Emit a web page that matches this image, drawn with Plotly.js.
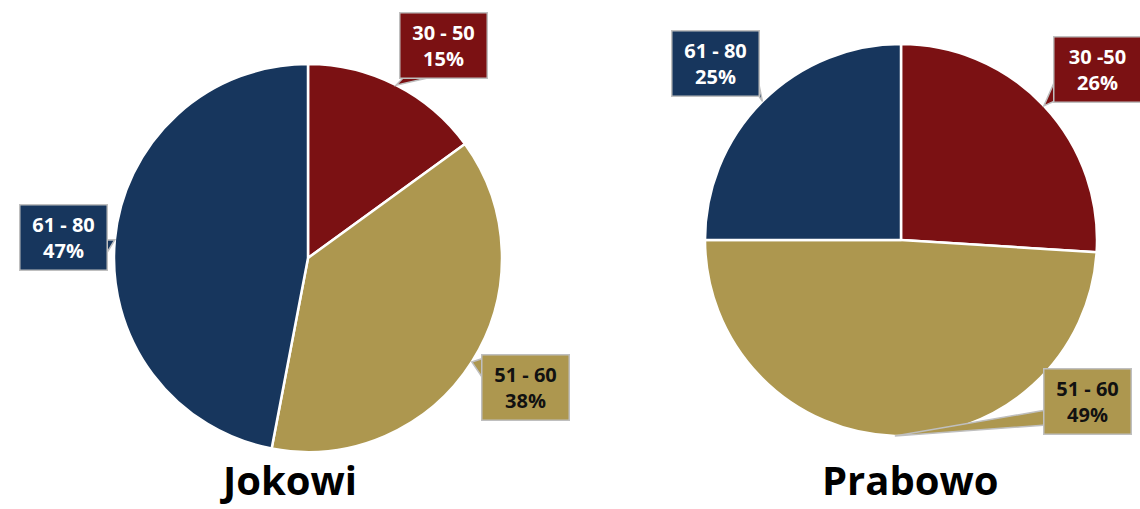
<!DOCTYPE html>
<html>
<head>
<meta charset="utf-8">
<script src="https://cdn.plot.ly/plotly-3.0.1.min.js"></script>
<style>html,body{margin:0;padding:0;background:#fff;}#chart{width:1140px;height:509px;}</style>
</head>
<body>
<div id="chart"></div>
<script>
// ---- data ----
const categories = ['30 - 50', '51 - 60', '61 - 80'];
const jokowiValues = [15, 38, 47];
const prabowoValues = [26, 49, 25];
const jokowiLabels = ['30 - 50', '51 - 60', '61 - 80'];
const prabowoLabels = ['30 -50', '51 - 60', '61 - 80'];
const candidateNames = ['Jokowi', 'Prabowo'];

// ---- styling ----
const W = 1140, H = 509;
const colors = ['#7B1113', '#AD974F', '#17365D'];
const textColors = ['#FFFFFF', '#111111', '#FFFFFF'];
const borderGray = '#BFBFBF';

// pie geometry (pixels)
const pies = [
  {cx: 308, cy: 258, r: 194, values: jokowiValues, labels: jokowiLabels, title: candidateNames[0], tx: 288,
   boxes: [ // box center, and wedge base points
     {bx: 443, by: 45, base: [[404, 77], [432, 77]]},
     {bx: 525, by: 387, base: [[484, 358], [484, 380]]},
     {bx: 63, by: 237, base: [[105, 240], [105, 256]]}
   ]},
  {cx: 901, cy: 240, r: 196, values: prabowoValues, labels: prabowoLabels, title: candidateNames[1], tx: 910,
   boxes: [
     {bx: 1097, by: 69, base: [[1057, 76], [1057, 100]]},
     {bx: 1087, by: 401, base: [[1046, 410], [1046, 425]]},
     {bx: 715, by: 63, base: [[756, 70], [756, 92]]}
   ]}
];

const px = x => x / W;
const py = y => 1 - y / H;

const traces = [];
const annotations = [];
const shapes = [];

pies.forEach((p, pi) => {
  traces.push({
    type: 'pie',
    values: p.values,
    labels: categories,
    sort: false,
    direction: 'clockwise',
    rotation: 0,
    textinfo: 'none',
    hoverinfo: 'skip',
    marker: {colors: colors, line: {color: '#FFFFFF', width: 2.5}},
    domain: {x: [px(p.cx - p.r), px(p.cx + p.r)], y: [py(p.cy + p.r), py(p.cy - p.r)]},
    showlegend: false
  });
  const total = p.values.reduce((a, b) => a + b, 0);
  let cum = 0;
  p.values.forEach((v, i) => {
    const mid = (cum + v / 2) / total * 2 * Math.PI;
    cum += v;
    const tipX = p.cx + p.r * Math.sin(mid);
    const tipY = p.cy - p.r * Math.cos(mid);
    const b = p.boxes[i];
    const path = 'M ' + px(b.base[0][0]) + ' ' + py(b.base[0][1]) +
                 ' L ' + px(tipX) + ' ' + py(tipY) +
                 ' L ' + px(b.base[1][0]) + ' ' + py(b.base[1][1]) + ' Z';
    shapes.push({type: 'path', xref: 'paper', yref: 'paper', path: path,
      fillcolor: colors[i], line: {color: borderGray, width: 1.5}, layer: 'above'});
    annotations.push({
      xref: 'paper', yref: 'paper', x: px(b.bx), y: py(b.by),
      xanchor: 'center', yanchor: 'middle', showarrow: false,
      text: '<b>' + p.labels[i] + '<br>' + v + '%</b>',
      font: {family: 'Open Sans, Noto Sans, sans-serif', size: 20, color: textColors[i]},
      bgcolor: colors[i], bordercolor: borderGray, borderwidth: 1.5, borderpad: 3,
      width: 80, height: 58, align: 'center'
    });
  });
  annotations.push({
    xref: 'paper', yref: 'paper', x: px(p.tx), y: 0,
    xanchor: 'center', yanchor: 'bottom', showarrow: false,
    text: '<b>' + p.title + '</b>',
    font: {family: 'Open Sans, Noto Sans, sans-serif', size: 40, color: '#000000'}
  });
});

Plotly.newPlot('chart', traces, {
  width: W, height: H,
  margin: {l: 0, r: 0, t: 0, b: 0},
  paper_bgcolor: '#FFFFFF',
  showlegend: false,
  annotations: annotations,
  shapes: shapes
}, {displayModeBar: false, staticPlot: true});
</script>
</body>
</html>
